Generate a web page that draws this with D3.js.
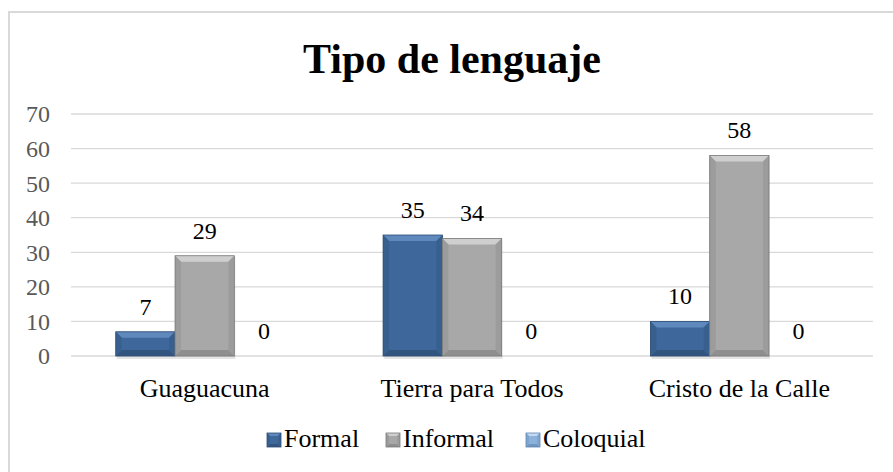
<!DOCTYPE html>
<html><head><meta charset="utf-8">
<script src="https://cdn.jsdelivr.net/npm/d3@7"></script>
<style>body{margin:0;background:#fff}svg{display:block}</style>
</head><body>
<script>
const categories = ["Guaguacuna", "Tierra para Todos", "Cristo de la Calle"];
const seriesNames = ["Formal", "Informal", "Coloquial"];
const formal = [7, 35, 10];
const informal = [29, 34, 58];
const coloquial = [0, 0, 0];
const yTicks = [0, 10, 20, 30, 40, 50, 60, 70];
const title = "Tipo de lenguaje";

const seriesValues = [formal, informal, coloquial];
const colors = [
  {main:"#3e679c", light:"#5f88bd", dark:"#31557f", side:"#38608f", stroke:"#2d4d75"},
  {main:"#a8a8a8", light:"#cfcfcf", dark:"#8f8f8f", side:"#9c9c9c", stroke:"#7a7a7a"},
  {main:"#8cb2dc", light:"#c4daf1", dark:"#6f95c2", side:"#7ea4cf", stroke:"#5f85b2"}
];

const W = 893, H = 472;
const svg = d3.select("body").append("svg").attr("width", W).attr("height", H);
const font = "'Liberation Serif','Times New Roman',serif";

svg.append("rect").attr("x", 9).attr("y", 12).attr("width", W + 10).attr("height", H + 10)
  .attr("fill", "none").attr("stroke", "#d9d9d9").attr("stroke-width", 2);

svg.append("text").attr("x", 452).attr("y", 73).attr("text-anchor", "middle")
  .attr("font-family", font).attr("font-weight", "bold").attr("font-size", 42)
  .attr("fill", "#000").text(title);

const plotL = 71, plotR = 873, plotT = 114, plotB = 356;
const y = d3.scaleLinear().domain([0, 70]).range([plotB, plotT]);
const x0 = d3.scaleBand().domain(categories).range([plotL, plotR]).paddingInner(0).paddingOuter(0);
const x1 = d3.scaleBand().domain(seriesNames).range([0, x0.bandwidth()]).paddingInner(0.0).paddingOuter(0.755);

// gridlines
svg.append("g").selectAll("line").data(yTicks).join("line")
  .attr("x1", plotL).attr("x2", plotR)
  .attr("y1", d => y(d)).attr("y2", d => y(d))
  .attr("stroke", "#d9d9d9").attr("stroke-width", 1.3);

// y axis labels
const yAxis = d3.axisLeft(y).tickValues(yTicks).tickSize(0).tickPadding(0);
const gy = svg.append("g").attr("transform", `translate(${plotL - 21},0)`).call(yAxis);
gy.select(".domain").remove();
gy.selectAll("text").attr("font-family", font).attr("font-size", 24).attr("fill", "#595959").attr("dy", "0.33em");

// x axis labels
const xAxis = d3.axisBottom(x0).tickSize(0).tickPadding(0);
const gx = svg.append("g").attr("transform", `translate(0,${plotB + 41})`).call(xAxis);
gx.select(".domain").remove();
gx.selectAll("text").attr("font-family", font).attr("font-size", 26).attr("fill", "#000").attr("dy", "0");

function bevelBar(g, x, yTop, w, h, c, b) {
  b = Math.min(b, h / 2, w / 2);
  g.append("rect").attr("x", x).attr("y", yTop).attr("width", w).attr("height", h).attr("fill", c.main);
  if (h <= 0) return;
  g.append("polygon").attr("points", [[x, yTop], [x + w, yTop], [x + w - b, yTop + b], [x + b, yTop + b]].join(" ")).attr("fill", c.light);
  g.append("polygon").attr("points", [[x, yTop + h], [x + w, yTop + h], [x + w - b, yTop + h - b], [x + b, yTop + h - b]].join(" ")).attr("fill", c.dark);
  g.append("polygon").attr("points", [[x, yTop], [x + b, yTop + b], [x + b, yTop + h - b], [x, yTop + h]].join(" ")).attr("fill", c.side);
  g.append("polygon").attr("points", [[x + w, yTop], [x + w - b, yTop + b], [x + w - b, yTop + h - b], [x + w, yTop + h]].join(" ")).attr("fill", c.side);
  g.append("rect").attr("x", x).attr("y", yTop).attr("width", w).attr("height", h)
    .attr("fill", "none").attr("stroke", c.stroke).attr("stroke-width", 0.8);
}

const bars = svg.append("g");
categories.forEach((cat, i) => {
  seriesNames.forEach((s, j) => {
    const v = seriesValues[j][i];
    const bx = x0(cat) + x1(s);
    const bw = x1.bandwidth();
    const g = bars.append("g");
    if (v > 0) g.append("rect").attr("x", bx + 1).attr("y", y(v) + 1).attr("width", bw).attr("height", plotB - y(v) + 2).attr("fill", "#000").attr("opacity", 0.1);
    bevelBar(g, bx, y(v), bw, plotB - y(v), colors[j], 6);
    svg.append("text").attr("x", bx + bw / 2).attr("y", y(v) - 17)
      .attr("text-anchor", "middle").attr("font-family", font).attr("font-size", 24)
      .attr("fill", "#000").text(v);
  });
});

// legend
const legendX = [267, 386, 526];
const lg = svg.append("g");
seriesNames.forEach((s, j) => {
  const g = lg.append("g");
  bevelBar(g, legendX[j], 433, 14, 14, colors[j], 3);
  lg.append("text").attr("x", legendX[j] + 17).attr("y", 447)
    .attr("font-family", font).attr("font-size", 26).attr("fill", "#000").text(s);
});
</script>
</body></html>
